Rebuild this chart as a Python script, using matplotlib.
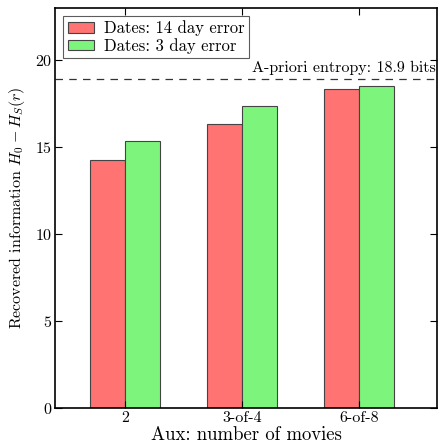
import numpy as np
import matplotlib
matplotlib.use('Agg')
from matplotlib import pyplot as plt

plt.rcParams['font.family'] = 'serif'
plt.rcParams['font.serif'] = ['cmr10', 'DejaVu Serif']
plt.rcParams['mathtext.fontset'] = 'cm'
plt.rcParams['axes.formatter.use_mathtext'] = True
plt.rcParams['xtick.direction'] = 'in'
plt.rcParams['ytick.direction'] = 'in'

# aux sizes and recovered bits for each date error
categories = ['2', '3-of-4', '6-of-8']
err14 = [14.26, 16.33, 18.34]
err3 = [15.33, 17.38, 18.53]
entropy = 18.9

fig = plt.figure(figsize=(4.4, 4.46), dpi=100)
ax = fig.add_axes([0.125, 0.085, 0.868, 0.897])

x = np.arange(len(categories))
w = 0.3
ax.bar(x - w/2, err14, w, color='#ff7373', edgecolor='#444444', linewidth=0.8,
       label='Dates: 14 day error')
ax.bar(x + w/2, err3, w, color='#7df57d', edgecolor='#444444', linewidth=0.8,
       label='Dates: 3 day error')

# a-priori entropy line
ax.axhline(entropy, color='#333333', linestyle='--', linewidth=0.9, dashes=(6, 5))
ax.text(2.66, entropy + 0.25, 'A-priori entropy: %.1f bits' % entropy,
        ha='right', va='bottom', fontsize=11.5)

ax.set_xlim(-0.6, 2.67)
ax.set_ylim(0, 23)
ax.set_xticks(x)
ax.set_xticklabels(categories, fontsize=11.5)
ax.set_yticks([0, 5, 10, 15, 20])
ax.tick_params(axis='y', labelsize=11.5)
ax.tick_params(top=True, right=True, length=5, pad=2)
for s in ax.spines.values():
    s.set_linewidth(1.2)

ax.set_xlabel('Aux: number of movies', fontsize=13.5, labelpad=1)
ax.set_ylabel(r'Recovered information $H_0 - H_S(r)$', fontsize=11.5, labelpad=6)

leg = ax.legend(loc='upper left', fontsize=12, fancybox=False,
                edgecolor='#333333', borderaxespad=0.5, handlelength=1.6,
                handleheight=0.6, labelspacing=0.1, borderpad=0.25,
                handletextpad=0.6)
leg.get_frame().set_linewidth(0.8)

plt.savefig('out.png', dpi=100)
